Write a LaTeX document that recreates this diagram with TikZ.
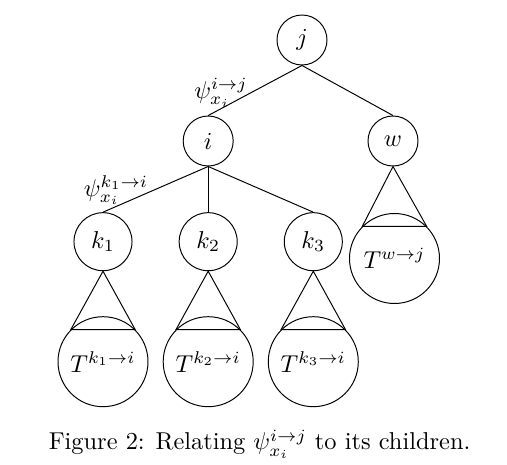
\documentclass[tikz,border=0pt]{standalone}
\begin{document}
\begin{tikzpicture}[x=0.41pt,y=-0.41pt,
  small/.style={circle,draw,minimum size=20.5pt,inner sep=0pt},
  kc/.style={circle,draw,minimum size=23.8pt,inner sep=0pt},
  big/.style={circle,draw,minimum size=36.9pt,inner sep=0pt},
  lab/.style={inner sep=0pt},
  tri/.style={draw}]
\useasboundingbox (0,0) rectangle (507,465);
% tree nodes
\node[small] (j) at (302,40) {$j$};
\node[small] (i) at (208.2,141) {$i$};
\node[small] (w) at (393,141) {$w$};
\node[kc] (k1) at (103,241.7) {$k_1$};
\node[kc] (k2) at (208.2,241.7) {$k_2$};
\node[kc] (k3) at (313.3,241.7) {$k_3$};
% subtree circles
\node[big] (T1) at (103,361.7) {$T^{k_1\rightarrow i}$};
\node[big] (T2) at (208.2,361.7) {$T^{k_2\rightarrow i}$};
\node[big] (T3) at (313.3,361.7) {$T^{k_3\rightarrow i}$};
\node[big] (Tw) at (394.5,258.5) {$T^{w\rightarrow j}$};
% edges
\draw (j.south) -- (i.north);
\draw (j.south) -- (w.north);
\draw (i.south) -- (k1.north);
\draw (i.south) -- (k2.north);
\draw (i.south) -- (k3.north);
% triangles
\draw[tri] (k1.south) -- (T1.north west) -- (T1.north east) -- cycle;
\draw[tri] (k2.south) -- (T2.north west) -- (T2.north east) -- cycle;
\draw[tri] (k3.south) -- (T3.north west) -- (T3.north east) -- cycle;
\draw[tri] (w.south) -- (Tw.north west) -- (Tw.north east) -- cycle;
% edge labels
\node[lab] (lij) at (221,93) {$\psi_{x_i}^{i\rightarrow j}$};
\node[lab] (lki) at (116,190) {$\psi_{x_i}^{k_1\rightarrow i}$};
% caption
\node[lab,anchor=base west] (cap) at (48.3,450) {Figure 2: Relating $\psi_{x_i}^{i\rightarrow j}$ to its children.};
\end{tikzpicture}
\end{document}
